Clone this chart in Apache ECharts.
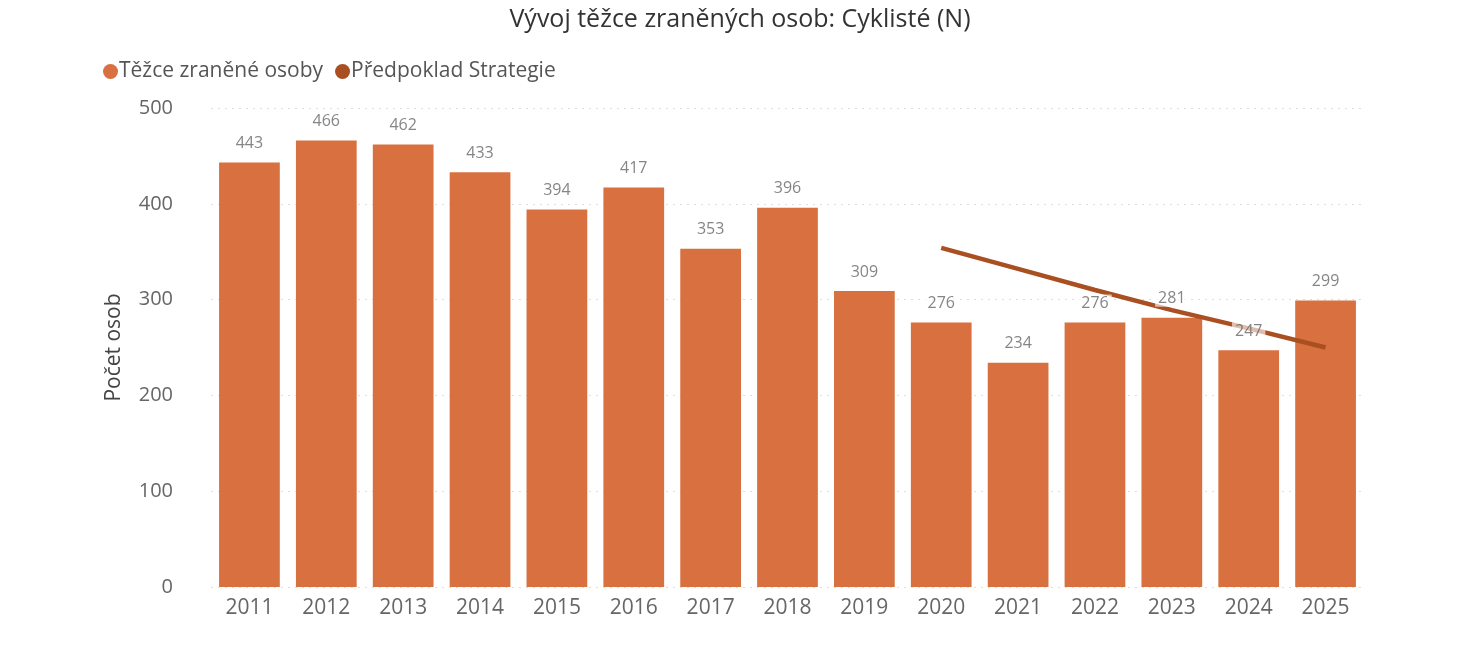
<!DOCTYPE html>
<html>
<head>
<meta charset="utf-8">
<script src="https://cdn.jsdelivr.net/npm/echarts@6/dist/echarts.min.js"></script>
<style>html,body{margin:0;padding:0;background:#fff}#c{width:1480px;height:656px}</style>
</head>
<body>
<div id="c"></div>
<script>
const years = ['2011','2012','2013','2014','2015','2016','2017','2018','2019','2020','2021','2022','2023','2024','2025'];
const injured = [443,466,462,433,394,417,353,396,309,276,234,276,281,247,299];
const strategy = [null,null,null,null,null,null,null,null,null,354,332,310,289,270,250];
const yTicks = [0,100,200,300,400,500];

const FONT = '"Open Sans","Noto Sans",sans-serif';
const chart = echarts.init(document.getElementById('c'));
chart.setOption({
  animation: false,
  textStyle: {fontFamily: FONT},
  title: {
    text: 'Vývoj těžce zraněných osob: Cyklisté (N)',
    left: 'center', top: 2,
    textStyle: {fontFamily: FONT, fontSize: 25, fontWeight: 'normal', color: '#333'}
  },
  legend: {
    data: ['Těžce zraněné osoby', 'Předpoklad Strategie'],
    left: 98, top: 56,
    icon: 'circle', itemWidth: 15, itemHeight: 15, itemGap: 12,
    textStyle: {fontFamily: FONT, fontSize: 21, color: '#555', padding: [0,0,0,-4]}
  },
  grid: {left: 211, right: 116, top: 108, bottom: 69},
  xAxis: {
    type: 'category', data: years,
    axisLine: {show: false}, axisTick: {show: false},
    axisLabel: {fontFamily: FONT, fontSize: 21, color: '#666', margin: 11}
  },
  yAxis: {
    type: 'value', min: 0, max: 500, interval: 100,
    name: 'Počet osob', nameLocation: 'middle', nameGap: 86, nameRotate: 90,
    nameTextStyle: {fontFamily: FONT, fontSize: 21, color: '#444'},
    axisLabel: {fontFamily: FONT, fontSize: 20, color: '#666', margin: 38,
      formatter: v => yTicks.includes(v) ? String(v) : ''},
    splitLine: {lineStyle: {color: '#ddd', type: [2, 5], width: 1}}
  },
  series: [
    {
      name: 'Těžce zraněné osoby', type: 'bar', data: injured,
      barCategoryGap: '21%', z: 2,
      itemStyle: {color: '#D8703F'}
    },
    {
      name: 'Předpoklad Strategie', type: 'line', data: strategy,
      z: 3, showSymbol: false, symbol: 'circle', symbolSize: 0,
      lineStyle: {color: '#A94F22', width: 4.5},
      itemStyle: {color: '#A94F22'}
    },
    {
      name: 'labels', type: 'scatter', data: injured, symbolSize: 0, z: 5,
      silent: true,
      label: {
        show: true, position: 'top', distance: 11,
        fontFamily: FONT, fontSize: 16, color: '#666',
        backgroundColor: 'rgba(255,255,255,0.78)', padding: [1, 3, 0, 3]
      }
    }
  ]
});
</script>
</body>
</html>
